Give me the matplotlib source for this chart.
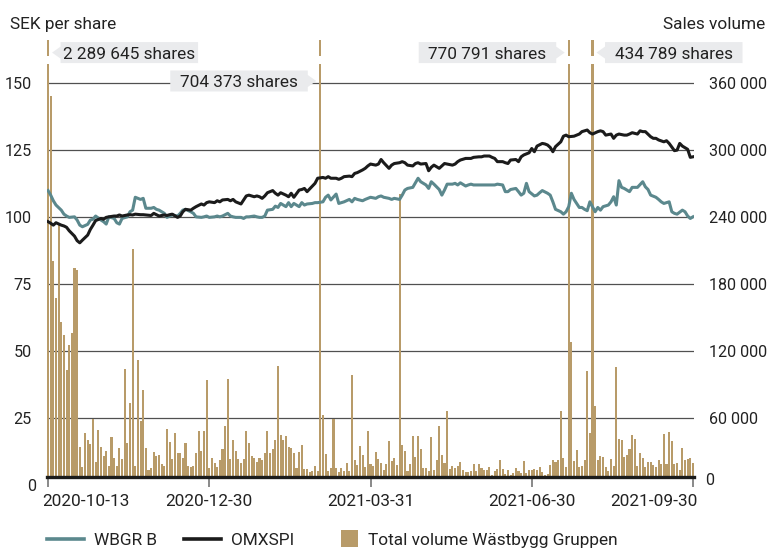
import matplotlib
matplotlib.use("Agg")
import matplotlib.pyplot as plt
import matplotlib.transforms as mtransforms
from matplotlib.lines import Line2D
from matplotlib.patches import Polygon, Patch, Rectangle
from matplotlib.legend_handler import HandlerPatch

plt.rcParams["font.family"] = ["Roboto", "DejaVu Sans"]
FS = 12.4
YFS = 11.6
plt.rcParams["font.size"] = FS

# ---------------- data ----------------
tick_days = [0, 61, 122, 183, 244]
tick_labels = ["2020-10-13", "2020-12-30", "2021-03-31", "2021-06-30", "2021-09-30"]

price_ticks = [25, 50, 75, 100, 125, 150]
vol_ticks = [60000, 120000, 180000, 240000, 300000, 360000]
vol_tick_labels = ["60 000", "120 000", "180 000", "240 000", "300 000", "360 000"]

volume = [
    2289645, 348000, 201000, 167400, 232500, 146100, 134100, 102900, 125400, 135900,
    194400, 192600, 34500, 16500, 47100, 40500, 36900, 59700, 21000, 49500,
    34500, 26100, 30900, 17400, 43500, 24000, 17400, 33300, 23100, 104400,
    38100, 73500, 211500, 17400, 111900, 57900, 84900, 33300, 14100, 15900,
    30000, 26100, 27000, 18900, 17400, 50700, 38700, 23700, 47100, 29100,
    29100, 24300, 38100, 17400, 16500, 17400, 29100, 48900, 30900, 48300,
    93900, 15600, 24300, 19800, 16500, 22500, 32400, 53100, 95400, 23400,
    40500, 30600, 23400, 19800, 23400, 48600, 37800, 26100, 24300, 20700,
    24300, 22500, 28800, 48600, 28800, 32400, 40500, 107100, 45000, 40500,
    44100, 34200, 33300, 28800, 15300, 29700, 36000, 14400, 14400, 11700,
    12600, 17100, 12600, 704373, 63000, 27900, 12600, 15300, 59700, 15300,
    11700, 15300, 12600, 19800, 12600, 99000, 22500, 18000, 35100, 27000,
    16200, 48600, 18900, 17100, 29700, 23400, 19800, 13500, 18900, 39600,
    21600, 24300, 18000, 261000, 36000, 30600, 12600, 18900, 44100, 25200,
    44100, 32400, 15300, 15300, 12600, 43200, 13500, 22500, 53100, 27000,
    19800, 66600, 14400, 17100, 15300, 17100, 20700, 13500, 11700, 11700,
    12600, 18900, 12600, 18900, 15300, 13500, 13500, 16200, 9000, 12600,
    14400, 22500, 14400, 9900, 13500, 9000, 10800, 15300, 12600, 10800,
    21600, 10800, 13500, 13500, 14400, 13500, 16200, 11700, 9000, 9900,
    18000, 22500, 20700, 22500, 66600, 24300, 16200, 770791, 127800, 21600,
    31500, 16200, 17100, 22500, 102600, 46800, 434789, 71100, 22500, 26100,
    25200, 16200, 12600, 23400, 17100, 106200, 41400, 40500, 25200, 27000,
    32400, 45000, 41400, 17100, 28800, 24300, 16200, 20700, 20700, 18000,
    16200, 22500, 18900, 45900, 18900, 47700, 39600, 18900, 19800, 13500,
    33300, 22500, 23400, 24300, 19800,
]

wbgr_day = [
    0, 1, 2, 3, 5, 6, 7, 8, 10, 11, 12, 13, 15, 16, 17, 18, 20, 21, 22, 23,
    25, 26, 27, 28, 30, 31, 32, 33, 35, 36, 37, 39, 40, 41, 42, 44, 45, 46, 47, 49,
    50, 51, 52, 54, 55, 56, 58, 59, 60, 61, 63, 64, 65, 66, 68, 69, 70, 71, 73, 74,
    75, 76, 78, 79, 80,
    81, 82, 83, 85, 86, 87, 88, 90, 91, 92, 93, 95, 96, 97, 98, 100, 101, 102, 104, 105,
    106, 107, 109, 110, 111, 112, 114, 115, 116, 117, 119, 120, 121, 122, 124, 125, 126, 127, 129, 130,
    131, 133, 134, 135, 136, 138, 139, 140, 141, 143, 144, 145, 146, 148, 149, 150, 151, 153, 154, 155,
    156, 158, 159, 160, 161, 163,
    164, 165, 167, 168, 169, 170, 172, 173, 174, 175, 177, 178, 179, 180, 181, 182, 184, 185, 186, 187,
    189, 190, 191, 192, 194, 195, 196, 197, 198, 199, 201, 202, 203, 204, 205, 207, 208, 209, 210, 212,
    213, 214, 215, 216, 217, 218, 220, 221, 222, 223, 225, 226, 227, 228, 230, 231, 232, 233, 235, 236,
    237, 238, 240, 241, 242, 243, 244,
]
wbgr = [
    110, 108.3, 106.2, 104.6, 102.7, 101.2, 100.5, 100, 100.2, 99, 97.1, 96.5, 97.4, 99, 99.3,
    100.5, 99, 98.4, 97.5, 100.2, 99.6, 98, 97.5, 99.6, 100.2, 102.1, 102.7, 107.5, 106.7, 107.1,
    103.4, 103.4, 103.7, 103, 102.7, 101.5, 100, 100.5, 100.9, 100.5, 101.5, 102.7, 103, 102.1, 101.5,
    100.2, 100, 100.2, 100.5, 100, 100.2, 100.5, 100.2, 100.5, 101.5, 100.5, 100.2, 100, 100, 99.6,
    100.2, 100.2, 100.5, 100.2, 100,
    100, 100.5, 102.7, 103, 104.2, 103.7, 105.2, 104, 105.5, 104, 105.2, 104, 105.5, 104.6, 105,
    105.2, 105.5, 105.5, 105.8, 107.5, 108.3, 106.5, 108.7, 105.2, 105.5, 105.8, 106.7, 105.8, 107.1, 106.7,
    106.2, 106.7, 107.1, 107.5, 107.1, 107.7, 108, 107.5, 107.1, 106.7, 107.1, 106.7, 108.3, 110.2, 110.8,
    111.2, 112.9, 114.6, 113.3, 112.1, 110.8, 113.3, 112.4, 110.4, 108.3, 110.2, 112.4, 112.4, 112.7, 112.1,
    112.9, 111.7, 112.1, 112.4, 112.1, 112.1,
    112.1, 112.1, 112.1, 112.1, 112.1, 112.4, 112.1, 109.6, 109.6, 110.4, 110.8, 109.6, 108.3, 109, 112.7,
    109.6, 108, 108.3, 109.2, 110, 109, 108.3, 105.8, 103, 102.1, 101.2, 102.1, 104, 109, 106.7,
    103.7, 103.7, 103, 102.5, 105.8, 102.1, 103.7, 102.7, 104, 104.6, 105.8, 107.7, 104.6, 113.7, 111.2,
    110.8, 109.6, 111.2, 111.2, 111.2, 113.3, 111.4, 110.4, 108.3, 107.5, 106.7, 105.8, 105.2, 105.8, 102.1,
    101.5, 101.2, 102.7, 102.1, 100.5, 99.6, 100.2,
]

omx_day = [
    0, 1, 2, 3, 5, 6, 7, 8, 10, 11, 12, 13, 15, 16, 17, 18, 20, 21, 22, 23,
    25, 26, 27, 28, 30, 31, 32, 33, 35, 36, 37, 39, 40, 41, 42, 44, 45, 46, 47, 49,
    50, 51, 52, 54, 55, 56, 58, 59, 60, 61, 63, 64, 65, 66, 68, 69, 70, 71, 73, 74,
    75, 76, 78, 79, 80,
    81, 82, 83, 85, 86, 87, 88, 90, 91, 92, 93, 95, 96, 97, 98, 100, 101, 102, 104, 105,
    106, 107, 109, 110, 111, 112, 114, 115, 116, 117, 119, 120, 121, 122, 124, 125, 126, 127, 129, 130,
    131, 133, 134, 135, 136, 138, 139, 140, 141, 143, 144, 145, 146, 148, 149, 150, 151, 153, 154, 155,
    156, 158, 159, 160, 161, 163,
    164, 165, 167, 168, 169, 170, 172, 173, 174, 175, 177, 178, 179, 180, 182, 183, 184, 185, 187, 188,
    189, 190, 191, 192, 194, 195, 196, 197, 199, 200, 201, 202, 204, 205, 206, 208, 209, 210, 211, 213,
    214, 215, 216, 218, 219, 220, 221, 223, 224, 225, 226, 228, 229, 230, 231, 233, 234, 235, 237, 238,
    239, 240, 242, 243, 244,
]
omx = [
    98.4, 97.8, 97.1, 98, 97.1, 96.8, 96.3, 95, 93, 91.3, 90.5, 91.5, 93.4, 95.5, 97.1,
    98.8, 99.6, 99.3, 100, 100.2, 100.5, 100.5, 100.9, 100.5, 100.9, 101, 100.9, 101.2, 101, 101,
    100.9, 100.7, 101.5, 101, 100.5, 100.9, 100.7, 101, 101.2, 100, 100.5, 102.1, 103, 102.7, 103.4,
    104, 105, 104.6, 105.5, 105.8, 105.5, 106.2, 105.8, 106.5, 106.7, 106.2, 106.7, 105.8, 105, 106.5,
    108, 108.3, 107.7, 108, 107.7,
    107.1, 108, 109.2, 110, 109, 108.3, 109.2, 108.3, 107.7, 109, 107.5, 110.2, 110.4, 110.8, 109.6,
    111.7, 112.7, 114.6, 114.9, 114.6, 115.2, 114.6, 114.6, 114.2, 114.6, 115.2, 115.4, 115.2, 116.4, 116.7,
    117.7, 118.3, 119.2, 119.9, 119.5, 119.9, 121.6, 120.4, 118.3, 119.5, 120.1, 120.4, 120.8, 120.4, 119.5,
    119.2, 120.1, 120.4, 119.9, 120.1, 117.4, 118.7, 119.5, 118.3, 119.2, 120.1, 119.9, 119.5, 119.9, 120.8,
    121.4, 122, 122, 122, 122.4, 122.6,
    122.6, 122.9, 122.9, 122.4, 122, 120.8, 120.8, 120.4, 120.1, 121.4, 121.6, 120.8, 122.6, 123.3, 124.1,
    125.7, 124.5, 126.6, 127.6, 127.4, 127, 126.1, 124.5, 126.4, 128.2, 130.3, 130.7, 130.1, 130.3, 130.7,
    131.1, 132, 132.6, 131.6, 131.1, 132, 132.3, 132, 130.7, 131.1, 129.5, 130.7, 131.1, 130.7, 130.7,
    131.1, 131.6, 131.1, 132.3, 132, 132, 130.1, 129.5, 129.5, 128.9, 128.2, 128.6, 127.6, 124.9, 125.1,
    127.6, 126.6, 125.4, 122.4, 122.6,
]

# bars that get a callout label
ann_days = [0, 103, 197, 206]
ann_side = [1, -1, -1, 1]          # +1: label to the right of the bar
ann_level = [161.5, 150.9, 161.5, 161.5]   # vertical position (SEK scale)

# ---------------- style ----------------
TEAL = "#5B888D"
BLACK = "#1B1B1B"
BAR = "#B89B69"
BOX = "#EAEBED"
GRID = "#505050"
TXT = "#222222"

W, H = 768, 549
L, R, T, B = 47, 694, 40, 477

fig = plt.figure(figsize=(W / 100, H / 100), dpi=100)
ax = fig.add_axes([L / W, (H - B) / H, (R - L) / W, (B - T) / H])
axl = ax.twinx()

# volume bars (right axis)
days = list(range(len(volume)))
ax.bar(days, volume, width=0.78, color=BAR, linewidth=0, zorder=2)
ax.set_xlim(-0.4, 244.4)
ax.set_ylim(7430, 398500)
ax.set_axisbelow(True)
ax.yaxis.tick_right()
ax.set_yticks(vol_ticks, vol_tick_labels)
ax.grid(axis="y", color=GRID, lw=0.9)
ax.tick_params(axis="y", length=0, pad=11, labelcolor=TXT, labelsize=YFS)
ax.set_xticks(tick_days, tick_labels)
ax.tick_params(axis="x", length=7.5, width=1.3, color="#808080", pad=4.5,
               labelcolor=TXT, labelsize=FS)
for s in ["top", "left", "right"]:
    ax.spines[s].set_visible(False)
ax.spines["bottom"].set_linewidth(2.4)
ax.spines["bottom"].set_color(BLACK)
ax.axhspan(377000, 384200, color="white", lw=0, zorder=2.5)

xt = ax.get_xticklabels()
xt[0].set_ha("left")
xt[0].set_transform(xt[0].get_transform() + mtransforms.ScaledTranslation(-0.055, 0, fig.dpi_scale_trans))
xt[-1].set_ha("right")
xt[-1].set_transform(xt[-1].get_transform() + mtransforms.ScaledTranslation(0.05, 0, fig.dpi_scale_trans))

# price lines (left axis)
axl.set_ylim(3.1, 166.2)
axl.yaxis.tick_left()
axl.set_yticks(price_ticks)
axl.tick_params(axis="y", length=0, pad=11, labelcolor=TXT, labelsize=YFS)
for s in axl.spines.values():
    s.set_visible(False)
axl.plot(wbgr_day, wbgr, color=TEAL, lw=2.2, zorder=3, solid_joinstyle="round")
axl.plot(omx_day, omx, color=BLACK, lw=2.2, zorder=4, solid_joinstyle="round")

# zero labels
axl.annotate("0", xy=(0, 0), xycoords=("axes fraction", "data"), xytext=(-11, 0),
             textcoords="offset pixels", ha="right", va="center_baseline", color=TXT,
             fontsize=YFS, annotation_clip=False)
ax.annotate("0", xy=(1, 0), xycoords=("axes fraction", "data"), xytext=(11, 6),
            textcoords="offset pixels", ha="left", va="center_baseline", color=TXT,
            fontsize=YFS, annotation_clip=False)

# callouts
near, far, tip, hh, th = 12.5, 150, 4, 10.5, 6
for d, side, lev in zip(ann_days, ann_side, ann_level):
    txt = f"{volume[d]:,}".replace(",", " ") + " shares"
    pts = [(tip, 0), (near, th), (near, hh), (far, hh), (far, -hh), (near, -hh), (near, -th)]
    pts = [(side * x, y) for x, y in pts]
    trans = mtransforms.Affine2D() + mtransforms.ScaledTranslation(d, lev, axl.transData)
    poly = Polygon(pts, closed=True, transform=trans, facecolor=BOX, edgecolor="none",
                   zorder=6, clip_on=False)
    axl.add_artist(poly)
    axl.annotate(txt, xy=(d, lev), xytext=(side * (near + far) / 2, 0),
                 textcoords="offset pixels", ha="center", va="center_baseline",
                 color=TXT, zorder=7, annotation_clip=False)

# axis titles
fig.text(10 / W, 1 - 29 / H, "SEK per share", ha="left", va="baseline", color=TXT)
fig.text(765 / W, 1 - 29 / H, "Sales volume", ha="right", va="baseline", color=TXT)


# legend
def square_patch(legend, orig_handle, xdescent, ydescent, width, height, fontsize):
    s = 12.2
    return Rectangle((width - xdescent - s, -ydescent + (height - s) / 2), s, s)


bar_handle = Patch(facecolor=BAR, edgecolor="none")
handles = [
    Line2D([], [], color=TEAL, lw=2.6),
    Line2D([], [], color=BLACK, lw=2.6),
    bar_handle,
]
fig.legend(handles, ["WBGR B", "OMXSPI", "Total volume Wästbygg Gruppen"],
           loc="center left", bbox_to_anchor=(L / W, 9 / H), ncol=3, frameon=False,
           handlelength=2.15, handletextpad=0.55, columnspacing=1.6,
           borderaxespad=0, borderpad=0, fontsize=FS, labelcolor=TXT,
           handler_map={bar_handle: HandlerPatch(patch_func=square_patch)})

fig.savefig("out.png", dpi=100)
